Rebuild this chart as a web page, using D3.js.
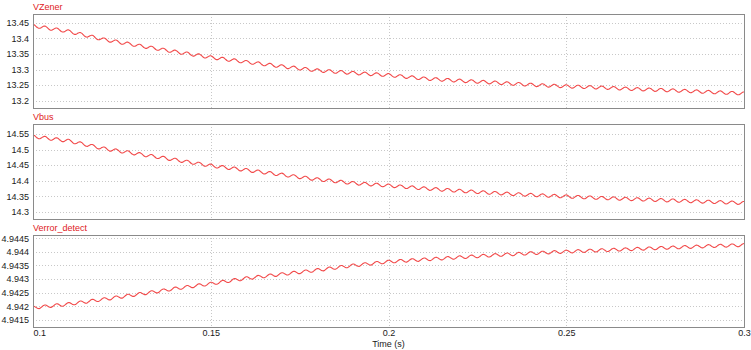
<!DOCTYPE html>
<html>
<head>
<meta charset="utf-8">
<script src="https://cdn.jsdelivr.net/npm/d3@7"></script>
<style>
  body { margin: 0; background: #fff; }
  svg { display: block; font-family: "Liberation Sans", Arial, sans-serif; }
</style>
</head>
<body>
<svg id="chart" width="751" height="350"></svg>
<script>
// Sample times (s) for the slow trend of each trace
const times = [0.10, 0.11, 0.12, 0.13, 0.14, 0.15, 0.16, 0.17, 0.18, 0.19, 0.20,
               0.21, 0.22, 0.23, 0.24, 0.25, 0.26, 0.27, 0.28, 0.29, 0.30];

// Trend values
const vzener = [13.440, 13.422, 13.396, 13.376, 13.357, 13.339, 13.324, 13.310, 13.297, 13.289, 13.282,
                13.271, 13.264, 13.258, 13.251, 13.246, 13.242, 13.237, 13.233, 13.228, 13.223];
const vbus = [14.542, 14.528, 14.503, 14.485, 14.467, 14.448, 14.434, 14.419, 14.404, 14.392, 14.384,
              14.375, 14.367, 14.360, 14.354, 14.349, 14.344, 14.340, 14.336, 14.332, 14.328];
const verror = [4.94195, 4.94208, 4.94226, 4.94245, 4.94265, 4.94283, 4.94303, 4.94318, 4.94333, 4.94350, 4.94364,
                4.94372, 4.94380, 4.94388, 4.94395, 4.94401, 4.94406, 4.94411, 4.94416, 4.94421, 4.94425];

// Switching ripple seen on every trace (frequency and half amplitude)
const rippleHz = 300;
const rippleAmp = { vzener: 0.005, vbus: 0.005, verror: 0.000055 };

// Axis ticks
const xTicks = [0.1, 0.15, 0.2, 0.25, 0.3];
const vzenerTicks = [13.2, 13.25, 13.3, 13.35, 13.4, 13.45];
const vbusTicks = [14.3, 14.35, 14.4, 14.45, 14.5, 14.55];
const verrorTicks = [4.9415, 4.942, 4.9425, 4.943, 4.9435, 4.944, 4.9445];

const panels = [
    { name: "VZener", values: vzener, amp: rippleAmp.vzener, ticks: vzenerTicks,
      domain: [13.1766, 13.4779], top: 14, bottom: 108 },
    { name: "Vbus", values: vbus, amp: rippleAmp.vbus, ticks: vbusTicks,
      domain: [14.2765, 14.5822], top: 124, bottom: 219 },
    { name: "Verror_detect", values: verror, amp: rippleAmp.verror, ticks: verrorTicks,
      domain: [4.94124, 4.94462], top: 235, bottom: 327 }
];

const left = 33, right = 744;
const svg = d3.select("#chart");

const x = d3.scaleLinear().domain([0.1, 0.3]).range([left, right]);

panels.forEach(p => {
    const y = d3.scaleLinear().domain(p.domain).range([p.bottom, p.top]);
    const trend = d3.scaleLinear().domain(times).range(p.values);

    // Gridlines
    const grid = svg.append("g").attr("class", "grid")
        .attr("stroke", "#c8c8c8")
        .attr("stroke-dasharray", "1,2")
        .attr("shape-rendering", "crispEdges");
    grid.selectAll("line.h").data(p.ticks).join("line")
        .attr("class", "h")
        .attr("x1", left).attr("x2", right)
        .attr("y1", d => Math.round(y(d)) + 0.5)
        .attr("y2", d => Math.round(y(d)) + 0.5);
    grid.selectAll("line.v").data(xTicks.slice(1, -1)).join("line")
        .attr("class", "v")
        .attr("y1", p.top).attr("y2", p.bottom)
        .attr("x1", d => Math.round(x(d)) + 0.5)
        .attr("x2", d => Math.round(x(d)) + 0.5);

    // Y axis labels
    const yAxis = d3.axisLeft(y).tickValues(p.ticks).tickSize(0).tickPadding(4)
        .tickFormat(d3.format("~g"));
    const ga = svg.append("g")
        .attr("transform", `translate(${left},0)`)
        .call(yAxis);
    ga.select(".domain").remove();
    ga.selectAll("text")
        .attr("fill", "#1a1a1a")
        .style("font-size", "9px");

    // Trace
    const step = 1 / rippleHz / 16;
    const pts = d3.range(0.1, 0.3 + step / 2, step).map(t => ({
        t: t,
        v: trend(t) + p.amp * Math.sin(2 * Math.PI * rippleHz * (t - 0.1) + Math.PI / 2)
    }));
    const line = d3.line().x(d => x(d.t)).y(d => y(d.v)).curve(d3.curveMonotoneX);
    svg.append("path")
        .datum(pts)
        .attr("fill", "none")
        .attr("stroke", "#f24a4a")
        .attr("stroke-width", 1.1)
        .attr("d", line);

    // Frame
    svg.append("rect")
        .attr("x", left + 0.5).attr("y", p.top + 0.5)
        .attr("width", right - left).attr("height", p.bottom - p.top)
        .attr("fill", "none")
        .attr("stroke", "#8a8a8a")
        .attr("stroke-width", 1);

    // Trace name
    svg.append("text")
        .attr("x", left)
        .attr("y", p.top - 4)
        .attr("fill", "#e0201c")
        .style("font-size", "9px")
        .text(p.name);
});

// X axis under the last panel
const last = panels[panels.length - 1];
const xAxis = d3.axisBottom(x).tickValues(xTicks).tickSize(0).tickPadding(3)
    .tickFormat(d3.format("~g"));
const gx = svg.append("g")
    .attr("transform", `translate(0,${last.bottom})`)
    .call(xAxis);
gx.select(".domain").remove();
gx.selectAll("text").attr("fill", "#1a1a1a").style("font-size", "9px");
gx.selectAll(".tick").filter((d, i) => i === 0).select("text").attr("text-anchor", "start");

svg.append("text")
    .attr("x", x(0.2))
    .attr("y", 346.5)
    .attr("text-anchor", "middle")
    .attr("fill", "#1a1a1a")
    .style("font-size", "9px")
    .text("Time (s)");
</script>
</body>
</html>
